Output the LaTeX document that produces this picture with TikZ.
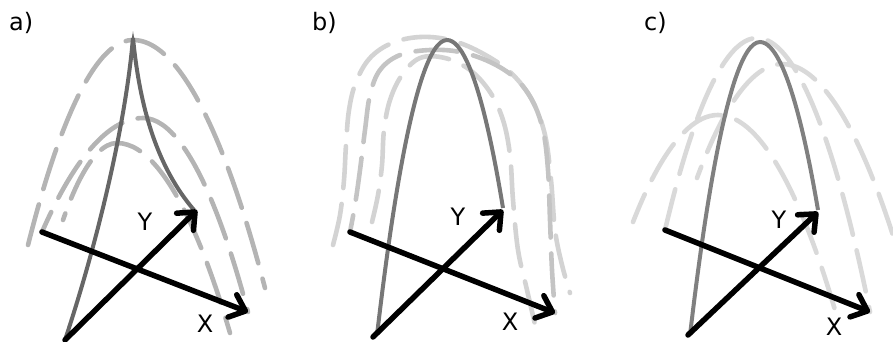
\documentclass[tikz,border=0pt]{standalone}
\usepackage{fontspec}
\setmainfont{DejaVu Sans}
\usetikzlibrary{arrows.meta}
\definecolor{solidA}{HTML}{666666}
\definecolor{solidB}{HTML}{777777}
\definecolor{solidC}{HTML}{808080}
\definecolor{dashA}{HTML}{B4B4B4}
\definecolor{dashB}{HTML}{C4C4C4}
\definecolor{dashBl}{HTML}{D3D3D3}
\definecolor{dashC}{HTML}{D9D9D9}
\begin{document}
\begin{tikzpicture}[x=1pt,y=-1pt,
  axis/.style={line width=5.5pt, line cap=round, -{Straight Barb[length=14pt,width=24pt,round]}},
  curve/.style={line width=4pt},
  dcurve/.style={line width=4.6pt, line cap=round, dash pattern=on 42pt off 16pt},
  lab/.style={font=\fontsize{24}{28}\selectfont, inner sep=0pt},
  panel/.style={font=\fontsize{24}{28}\selectfont, inner sep=0pt, anchor=base west}]
\useasboundingbox (0,0) rectangle (893,341);
\clip (0,0) rectangle (893,341);

% ---------- panel a ----------
\node[panel] (la) at (9,30) {a)};
\coordinate (aXs) at (42,232); \coordinate (aXe) at (248,312);
\coordinate (aYs) at (65,340); \coordinate (aYe) at (197,210);
\coordinate (aTop) at (133,38); \coordinate (aEnd) at (194,210);
\draw[dcurve,dashA] (28,245) parabola bend (133,40) (265,288);
\draw[dcurve,dashA,dash phase=20pt] (aXs) parabola bend (143,118) (aXe);
\draw[dcurve,dashA,dash phase=35pt] (63,220) parabola bend (117,143) (230,333);
\draw[curve,solidA] (aYs) .. controls (95,250) and (125,130) .. (aTop)
   .. controls (140,110) and (158,168) .. (aEnd);
\fill[solidA] (130.6,46) -- (133,31) -- (135.4,46) -- cycle;
\draw[axis] (aXs) -- (aXe);
\draw[axis] (aYs) -- (aYe);
\node[lab] (aY) at (145,222) {Y};
\node[lab] (aX) at (205,324) {X};

% ---------- panel b ----------
\node[panel] (lb) at (312,30) {b)};
\coordinate (bXs) at (350,232); \coordinate (bXe) at (555,313);
\coordinate (bYs) at (373,337); \coordinate (bYe) at (503,210);
\coordinate (bS) at (377,335); \coordinate (bE) at (503,208);
\draw[dcurve,dashBl] plot[smooth,tension=0.6] coordinates {(333,245) (340,215) (344,180) (346,145) (349,110) (356,82) (370,58) (392,43) (420,37) (450,40) (480,52) (510,72) (532,100) (545,135) (551,180) (555,230) (562,265) (570,293)};
\draw[dcurve,dashB,dash phase=25pt] plot[smooth,tension=0.6] coordinates {(bXs) (355,205) (360,170) (365,130) (370,95) (380,70) (400,55) (430,50) (460,52) (490,62) (515,78) (532,100) (543,130) (548,170) (550,220) (552,270) (bXe)};
\draw[dcurve,dashBl,dash phase=10pt] plot[smooth,tension=0.6] coordinates {(372,222) (378,195) (382,165) (384,130) (390,100) (402,75) (420,58) (445,58) (470,70) (490,92) (503,120) (510,155) (513,200) (518,250) (527,290) (537,333)};
\draw[curve,solidB] (bS) parabola bend (447,40) (bE);
\draw[axis] (bXs) -- (bXe);
\draw[axis] (bYs) -- (bYe);
\node[lab] (bY) at (458,217) {Y};
\node[lab] (bX) at (510,322) {X};

% ---------- panel c ----------
\node[panel] (lc) at (644,30) {c)};
\coordinate (cXs) at (665,230); \coordinate (cXe) at (870,312);
\coordinate (cYs) at (688,335); \coordinate (cYe) at (818,212);
\coordinate (cS) at (690,335); \coordinate (cE) at (818,210);
\draw[dcurve,dashC] (cXs) parabola bend (757,38) (cXe);
\draw[dcurve,dashC,dash phase=30pt] (697,178) parabola bend (782,64) (905,275);
\draw[dcurve,dashC,dash phase=12pt] (633,222) parabola bend (718,115) (835,310);
\draw[curve,solidC] (cS) parabola bend (760,42) (cE);
\draw[axis] (cXs) -- (cXe);
\draw[axis] (cYs) -- (cYe);
\node[lab] (cY) at (779,220) {Y};
\node[lab] (cX) at (834,327) {X};
\end{tikzpicture}
\end{document}
